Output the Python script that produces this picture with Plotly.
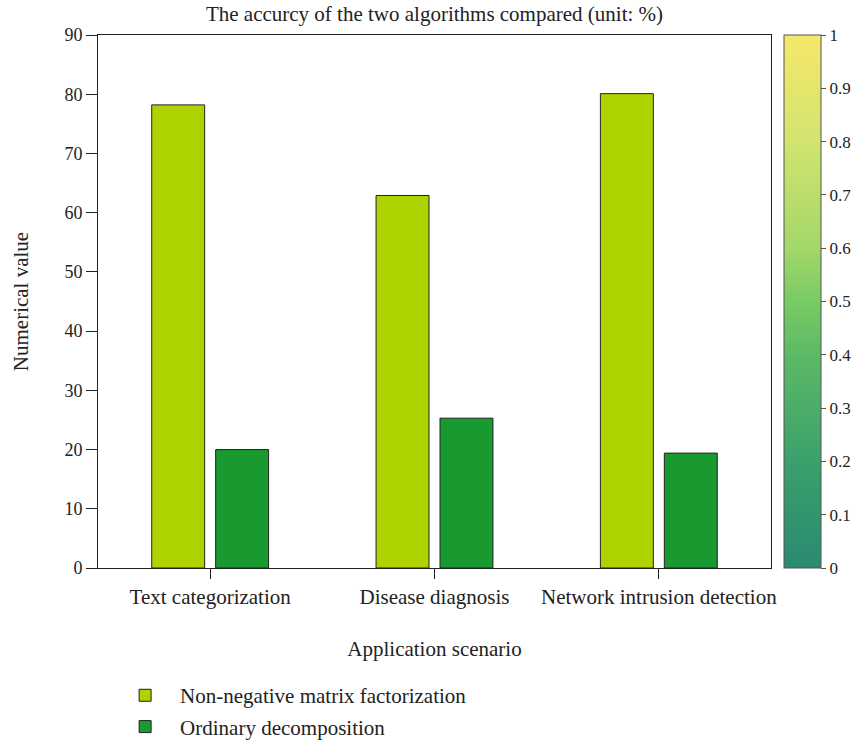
import plotly.graph_objects as go

categories = ["Text categorization", "Disease diagnosis", "Network intrusion detection"]
nmf_values = [78.2, 62.9, 80.1]
ordinary_values = [20.0, 25.3, 19.4]
series_names = ["Non-negative matrix factorization", "Ordinary decomposition"]
y_ticks = [0, 10, 20, 30, 40, 50, 60, 70, 80, 90]
cbar_ticks = [0, 0.1, 0.2, 0.3, 0.4, 0.5, 0.6, 0.7, 0.8, 0.9, 1]

FONT = "Liberation Serif"
FS = 21      # text labels
FN = 18      # numbers
colorscale = [
    [0.0, "#2b8a70"], [0.2, "#3ba06c"], [0.4, "#5cba66"], [0.5, "#79cb64"],
    [0.6, "#a3d769"], [0.8, "#d2e46f"], [1.0, "#f6e86a"],
]

fig = go.Figure()
fig.add_trace(go.Bar(
    x=categories, y=nmf_values, name=series_names[0], legendgroup="a",
    marker=dict(color="#add400", line=dict(color="#222222", width=1)),
))
fig.add_trace(go.Bar(
    x=categories, y=ordinary_values, name=series_names[1], legendgroup="b",
    marker=dict(color="#189a30", line=dict(color="#222222", width=1)),
))
# colorbar carrier
fig.add_trace(go.Scatter(
    x=[categories[0]], y=[0], mode="markers", showlegend=False, hoverinfo="skip",
    marker=dict(size=0.001, opacity=0, color=[0], cmin=0, cmax=1, colorscale=colorscale,
                showscale=True,
                colorbar=dict(x=1.0193, xanchor="left", y=0, yanchor="bottom", len=1,
                              lenmode="fraction", thickness=37, xpad=0, ypad=0,
                              outlinecolor="#555555", outlinewidth=1, tickvals=cbar_ticks,
                              ticktext=[("%g" % v) for v in cbar_ticks],
                              ticks="outside", ticklen=5, tickcolor="#555555",
                              tickfont=dict(family=FONT, size=17, color="#222222"))),
))

fig.update_layout(
    width=856, height=744,
    margin=dict(l=98, r=85, t=35, b=176, autoexpand=False),
    paper_bgcolor="white", plot_bgcolor="white",
    font=dict(family=FONT, size=FS, color="#222222"),
    title=dict(text="The accurcy of the two algorithms compared (unit: %)", x=0.5, xref="paper",
               xanchor="center", y=0.981, yanchor="middle",
               font=dict(family=FONT, size=FS, color="#222222")),
    barmode="group", bargap=0.43, bargroupgap=0.172,
    legend=dict(x=0.018, xanchor="left", y=-0.201, yanchor="top", orientation="v",
                itemwidth=60, tracegroupgap=1,
                font=dict(family=FONT, size=FS, color="#222222"),
                bgcolor="rgba(0,0,0,0)"),
    showlegend=True,
)
fig.update_xaxes(
    title=dict(text="Application scenario", standoff=33, font=dict(family=FONT, size=FS)),
    showline=True, linecolor="#222222", linewidth=1, mirror=True,
    ticks="outside", ticklen=10, tickcolor="#222222", showgrid=False,
    tickfont=dict(family=FONT, size=FS),
)
fig.update_yaxes(
    title=dict(text="Numerical value", standoff=30, font=dict(family=FONT, size=FS)),
    range=[0, 90], tickvals=y_ticks, showline=True, linecolor="#222222", linewidth=1,
    mirror=True, ticks="outside", ticklen=11, tickcolor="#222222", showgrid=False,
    zeroline=False, tickfont=dict(family=FONT, size=FN),
)

fig.write_html("out.html", config={"displayModeBar": False},
               post_script="document.body.style.margin='0';")
